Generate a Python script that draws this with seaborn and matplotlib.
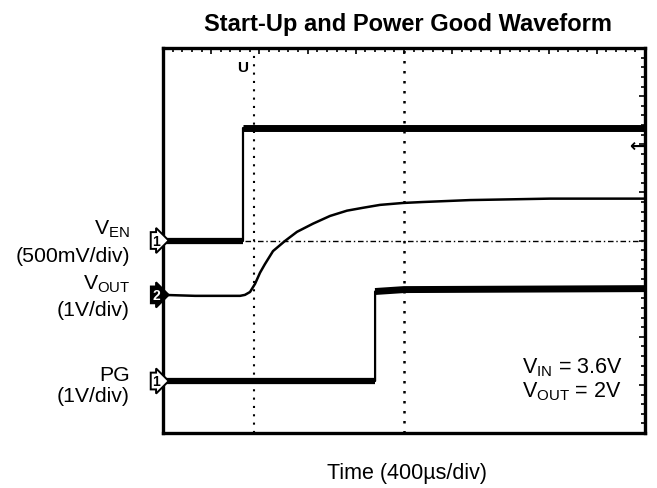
# Start-Up and Power Good waveform (scope capture redrawn)

import numpy as np
import pandas as pd
import matplotlib
matplotlib.use("Agg")
import matplotlib.pyplot as plt
import seaborn as sns
from matplotlib.ticker import MultipleLocator

# --- Data (time in us, channel levels in volts) ---
en_time = [0, 664, 664, 4000]
en_volt = [0.0, 0.0, 1.17, 1.17]

vout_time = [0, 266, 640, 680, 722, 764, 805, 846, 913, 1012, 1112, 1245,
             1386, 1527, 1660, 1801, 1992, 2158, 2548, 3212, 4000]
vout_volt = [0.0, -0.02, -0.02, 0.0, 0.06, 0.23, 0.46, 0.64, 0.91, 1.12,
             1.31, 1.48, 1.64, 1.75, 1.81, 1.87, 1.91, 1.93, 1.97, 2.0, 2.0]

pg_time = [0, 1760, 1760, 2000, 4000]
pg_volt = [0.0, 0.0, 1.86, 1.90, 1.92]

# scope channel setup: volts per division and ground marker (div from bottom)
en_scale, en_offset = 0.5, 4.0
vout_scale, vout_offset = 1.0, 2.87
pg_scale, pg_offset = 1.0, 1.08

time_per_div = 400
cursor_time = 755

# --- Style ---
sns.set_theme(style="white")
plt.rcParams["font.family"] = ["Liberation Sans", "DejaVu Sans"]
plt.rcParams["mathtext.fontset"] = "custom"
plt.rcParams["mathtext.rm"] = "Liberation Sans"
plt.rcParams["text.color"] = "black"

W, H = 657, 489
fig = plt.figure(figsize=(W / 100, H / 100), dpi=100)
ax = fig.add_axes([163 / W, 1 - 434 / H, 482 / W, 385 / H])


def px(x, y):
    return x / W, 1 - y / H


def to_df(t, v, scale, offset):
    return pd.DataFrame({"t": t, "y": np.array(v) / scale + offset})


en = to_df(en_time, en_volt, en_scale, en_offset)
vout = to_df(vout_time, vout_volt, vout_scale, vout_offset)
pg = to_df(pg_time, pg_volt, pg_scale, pg_offset)

# graticule centre lines and cursor
ax.axvline(5 * time_per_div, color="black", lw=1.8, ls=(0, (1, 3)), zorder=1)
ax.axvline(cursor_time, color="black", lw=1.5, ls=(0, (1, 3)), zorder=1)
ax.plot([680, 4000], [4, 4], color="black", lw=1.0, ls=(0, (4, 2, 1, 2)), zorder=1)

# traces: thin edges, thick (noisy) flat levels
for d in (en, pg):
    sns.lineplot(data=d, x="t", y="y", ax=ax, color="black", lw=1.6,
                 estimator=None, sort=False)
    sns.lineplot(data=d.iloc[:2], x="t", y="y", ax=ax, color="black", lw=4.5,
                 estimator=None, sort=False, solid_capstyle="butt")
    sns.lineplot(data=d.iloc[2:], x="t", y="y", ax=ax, color="black", lw=5.0,
                 estimator=None, sort=False, solid_capstyle="butt")
sns.lineplot(data=vout, x="t", y="y", ax=ax, color="black", lw=1.8,
             estimator=None, sort=False)

ax.set_xlim(0, 10 * time_per_div)
ax.set_ylim(0, 8)
ax.set_xlabel("")
ax.set_ylabel("")
ax.xaxis.set_major_locator(MultipleLocator(time_per_div))
ax.xaxis.set_minor_locator(MultipleLocator(time_per_div / 5))
ax.yaxis.set_major_locator(MultipleLocator(1))
ax.yaxis.set_minor_locator(MultipleLocator(0.2))
ax.tick_params(which="both", direction="in", top=True, right=True,
               labelbottom=False, labelleft=False, color="black")
ax.tick_params(which="major", length=4, width=1.2)
ax.tick_params(which="minor", length=3, width=1.2)
for s in ax.spines.values():
    s.set_color("black")
    s.set_linewidth(2.4)

# channel markers on the left edge
for ch, off, fc, tc in (("1", en_offset, "white", "black"),
                        ("2", vout_offset, "black", "white"),
                        ("1", pg_offset, "white", "black")):
    ax.text(-26, off, ch, ha="right", va="center", fontsize=10, fontweight="bold",
            color=tc, clip_on=False,
            bbox=dict(boxstyle="rarrow,pad=0.1", fc=fc, ec="black", lw=1.4))

# trigger marker and level arrow
ax.text(664, 7.6, "U", ha="center", va="center", fontsize=11, fontweight="bold")
ax.text(3935, 5.97, "\u2190", ha="center", va="center", fontsize=13,
        fontweight="bold", family="DejaVu Sans")

# --- Labels ---
fig.text(*px(408, 31), "Start-Up and Power Good Waveform", ha="center",
         va="baseline", fontsize=17, fontweight="bold")
fig.text(*px(407, 479), "Time (400\u00b5s/div)", ha="center", va="baseline",
         fontsize=15.5)

lab = dict(ha="right", fontsize=15.3)
fig.text(*px(130, 235), r"$\mathregular{V_{EN}}$", va="baseline", **lab)
fig.text(*px(130, 256), "(500mV/div)", va="center", **lab)
fig.text(*px(130, 290), r"$\mathregular{V_{OUT}}$", va="baseline", **lab)
fig.text(*px(130, 311), "(1V/div)", va="center", **lab)
fig.text(*px(130, 381), "PG", va="baseline", **lab)
fig.text(*px(130, 397), "(1V/div)", va="center", **lab)

fig.text(*px(522, 373), r"$\mathregular{V_{IN}}$ = 3.6V", ha="left",
         va="baseline", fontsize=15.5)
fig.text(*px(522, 397), r"$\mathregular{V_{OUT}}$ = 2V", ha="left",
         va="baseline", fontsize=15.5)

fig.savefig("out.png", dpi=100)
